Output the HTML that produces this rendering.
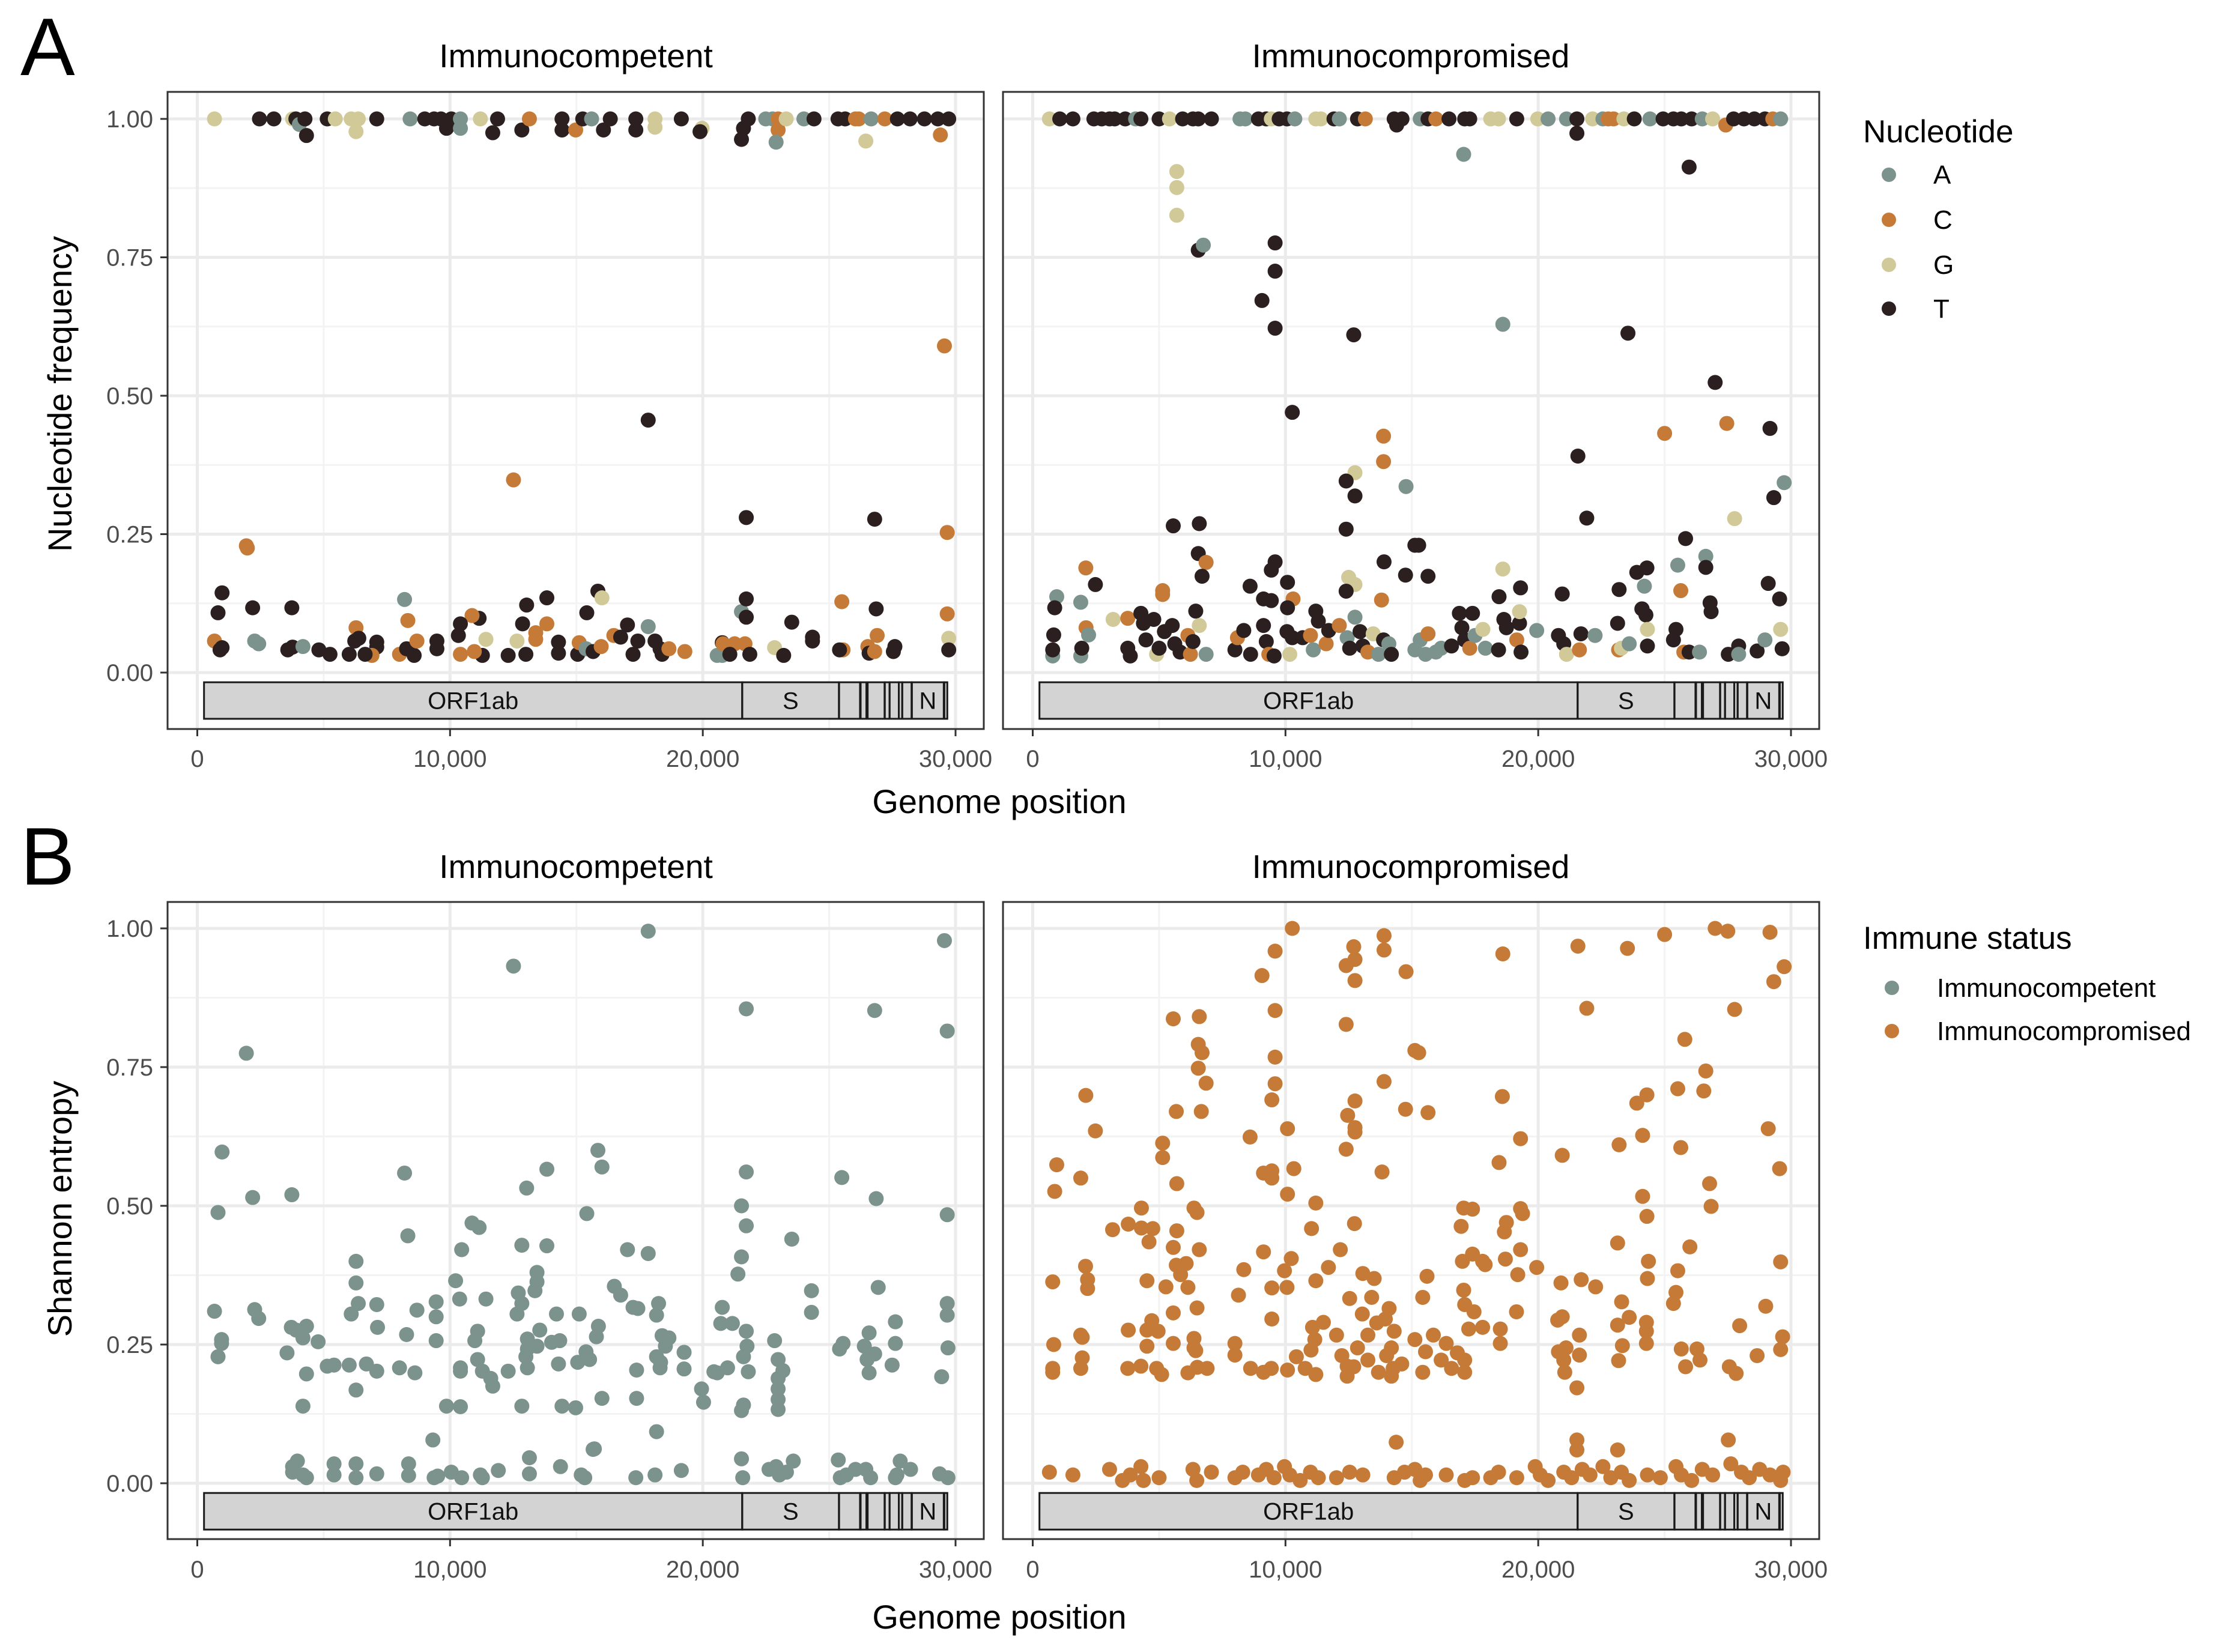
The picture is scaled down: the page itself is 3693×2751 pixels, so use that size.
<!DOCTYPE html>
<html><head><meta charset="utf-8"><style>
html,body{margin:0;padding:0;background:#fff}
svg{display:block;font-family:"Liberation Sans",Arial,sans-serif}
</style></head><body>
<svg id="fig" width="3693" height="2751" viewBox="0 0 3693 2751" xmlns="http://www.w3.org/2000/svg">
<rect x="0" y="0" width="3693" height="2751" fill="#fff"/>
<text x="34" y="125" font-size="136" fill="#000">A</text>
<text x="34" y="1473" font-size="136" fill="#000">B</text>
<text x="959" y="112" font-size="55" text-anchor="middle">Immunocompetent</text>
<text x="2349" y="112" font-size="55" text-anchor="middle">Immunocompromised</text>
<text x="959" y="1462" font-size="55" text-anchor="middle">Immunocompetent</text>
<text x="2349" y="1462" font-size="55" text-anchor="middle">Immunocompromised</text>
<text x="1664" y="1354" font-size="56" text-anchor="middle">Genome position</text>
<text x="1664" y="2712" font-size="56" text-anchor="middle">Genome position</text>
<text transform="translate(119,656) rotate(-90)" font-size="56" text-anchor="middle">Nucleotide frequency</text>
<text transform="translate(119,2013) rotate(-90)" font-size="56" text-anchor="middle">Shannon entropy</text>
<g>
<text x="3102" y="237" font-size="53">Nucleotide</text>
<circle cx="3145" cy="291" r="12" fill="#7b938c"/>
<text x="3219" y="306" font-size="44">A</text>
<circle cx="3145" cy="366" r="12" fill="#c57b37"/>
<text x="3219" y="381" font-size="44">C</text>
<circle cx="3145" cy="441" r="12" fill="#d2c998"/>
<text x="3219" y="456" font-size="44">G</text>
<circle cx="3145" cy="514" r="12" fill="#2b1f1f"/>
<text x="3219" y="529" font-size="44">T</text>
</g>
<g>
<text x="3102" y="1580" font-size="53">Immune status</text>
<circle cx="3150" cy="1645" r="12" fill="#7b938c"/>
<text x="3225" y="1660" font-size="44">Immunocompetent</text>
<circle cx="3150" cy="1717" r="12" fill="#c57b37"/>
<text x="3225" y="1732" font-size="44">Immunocompromised</text>
</g>
</svg>
<script>
// ---- data ----
const xTicks = [0, 10000, 20000, 30000];
const xTickLabels = ["0", "10,000", "20,000", "30,000"];
const yTicks = [0, 0.25, 0.5, 0.75, 1];
const yTickLabels = ["0.00", "0.25", "0.50", "0.75", "1.00"];
const geneNames = ["ORF1ab","S","ORF3a","E","M","ORF6","ORF7a","ORF7b","ORF8","N","ORF10"];
const geneStarts = [266,21563,25393,26245,26523,27202,27394,27756,27894,28274,29558];
const geneEnds = [21555,25384,26220,26472,27191,27387,27759,27887,28259,29533,29674];
const geneLabelShown = ["ORF1ab","S","","","","","","","","N",""];
const nucColors = {A:"#7b938c", C:"#c57b37", G:"#d2c998", T:"#2b1f1f"};

// panel A, immunocompetent: [position kb, frequency, nucleotide]
const freqCompetent = [
[.68,1,"G"],[2.46,1,"T"],[3.03,1,"T"],[3.77,1,"G"],[3.9,1,"T"],[4.04,.99,"A"],[4.26,1,"T"],[4.32,.97,"T"],[5.14,1,"T"],[5.46,1,"G"],[6.09,1,"G"],[6.37,1,"G"],[6.28,.977,"G"],[7.1,1,"T"],[8.42,1,"A"],[9.0,1,"T"],[9.37,1,"T"],[9.64,1,"T"],[9.86,.983,"T"],[10.05,1,"T"],[10.41,1,"A"],[10.41,.983,"A"],[11.2,1,"G"],[11.88,1,"T"],[11.69,.975,"T"],[12.84,.98,"T"],[13.14,1,"C"],[14.43,1,"T"],[14.43,.98,"T"],[14.97,.98,"C"],[15.25,1,"T"],[15.6,1,"A"],[16.07,.98,"T"],[16.34,1,"T"],[17.35,1,"T"],[17.35,.98,"T"],[18.11,1,"G"],[18.11,.985,"G"],[19.15,1,"T"],[19.97,.983,"G"],[19.89,.977,"T"],[21.53,.963,"T"],[21.61,.983,"T"],[21.8,1,"T"],[22.49,1,"A"],[22.76,1,"A"],[22.98,1,"C"],[22.98,.98,"C"],[22.9,.958,"A"],[23.3,1,"G"],[24.0,1,"A"],[24.4,1,"T"],[25.35,1,"T"],[25.63,1,"T"],[26.04,1,"C"],[26.17,1,"C"],[26.66,1,"A"],[26.45,.96,"G"],[27.2,1,"C"],[27.7,1,"T"],[28.2,1,"T"],[28.77,1,"T"],[29.3,1,"T"],[29.73,1,"T"],[29.4,.971,"C"],
[29.56,.59,"C"],[17.84,.456,"T"],[12.51,.348,"C"],[21.72,.28,"T"],[26.8,.277,"T"],[29.67,.253,"C"],[1.94,.229,"C"],[1.98,.225,"C"],
[.98,.144,"T"],[.82,.108,"T"],[2.19,.117,"T"],[3.74,.117,"T"],[8.2,.132,"A"],[8.33,.094,"C"],[13.03,.122,"T"],[13.83,.135,"T"],[15.85,.147,"T"],[16.01,.135,"G"],[15.41,.108,"T"],[21.53,.11,"A"],[21.72,.133,"T"],[21.72,.1,"T"],[25.5,.128,"C"],[26.86,.115,"T"],[29.67,.106,"C"],[23.52,.091,"T"],[17.02,.086,"T"],[17.84,.083,"A"],[11.15,.098,"T"],[10.87,.103,"C"],[10.41,.088,"T"],[12.87,.088,"T"],[13.83,.088,"C"],[6.28,.081,"C"],[24.34,.064,"T"],[24.34,.057,"T"],[26.9,.067,"C"],
[.68,.057,"C"],[.9,.041,"T"],[.98,.045,"T"],[2.27,.057,"A"],[2.43,.052,"A"],[3.58,.041,"T"],[3.77,.046,"T"],[4.18,.047,"A"],[4.81,.041,"T"],[5.25,.033,"T"],[6.01,.033,"T"],[6.23,.057,"T"],[6.39,.062,"T"],[7.1,.055,"T"],[7.1,.046,"T"],[6.91,.031,"C"],[6.64,.033,"T"],[8.0,.033,"C"],[8.28,.043,"T"],[8.58,.031,"T"],[8.69,.057,"C"],[9.48,.057,"T"],[9.48,.043,"T"],[10.41,.033,"C"],[10.33,.067,"T"],[11.28,.031,"T"],[10.96,.038,"C"],[11.42,.06,"G"],[12.3,.031,"T"],[13.0,.033,"T"],[12.65,.057,"G"],[13.39,.072,"C"],[13.39,.06,"C"],[14.29,.055,"T"],[14.29,.035,"T"],[15.05,.033,"T"],[15.11,.054,"C"],[15.38,.043,"A"],[15.66,.038,"T"],[15.98,.047,"C"],[16.48,.067,"C"],[16.75,.064,"T"],[17.24,.033,"T"],[17.43,.057,"T"],[18.11,.057,"T"],[18.39,.033,"T"],[18.31,.043,"T"],[18.66,.043,"C"],[19.29,.038,"C"],[20.57,.031,"A"],[20.77,.031,"A"],[20.77,.054,"T"],[20.8,.052,"C"],[21.67,.052,"C"],[21.86,.033,"T"],[21.26,.052,"C"],[21.07,.033,"T"],[22.84,.045,"G"],[23.2,.031,"T"],[25.55,.041,"C"],[25.41,.041,"T"],[26.53,.047,"C"],[26.58,.035,"T"],[26.8,.038,"C"],[27.6,.047,"T"],[27.54,.038,"T"],[29.73,.062,"G"],[29.73,.041,"T"]
];

// panel A, immunocompromised
const freqCompromised = [
[.66,1,"G"],[1.07,1,"T"],[1.59,1,"T"],[2.42,1,"T"],[2.73,1,"T"],[3.04,1,"T"],[3.24,1,"T"],[3.66,1,"T"],[4.07,1,"A"],[4.28,1,"T"],[5.0,1,"T"],[5.41,1,"G"],[5.93,1,"T"],[6.34,1,"T"],[6.55,1,"T"],[7.07,1,"T"],[8.2,1,"A"],[8.41,1,"A"],[8.93,1,"T"],[9.24,1,"T"],[9.44,1,"G"],[9.75,1,"T"],[10.06,1,"T"],[10.37,1,"A"],[11.2,1,"G"],[11.4,1,"G"],[11.92,1,"T"],[12.13,1,"A"],[12.85,1,"T"],[13.16,1,"C"],[14.3,1,"T"],[14.4,.989,"T"],[14.61,1,"T"],[15.33,1,"A"],[15.64,1,"T"],[15.95,1,"C"],[16.47,1,"T"],[17.09,1,"T"],[17.29,1,"T"],[18.12,1,"G"],[18.43,1,"G"],[19.15,1,"T"],[19.98,1,"G"],[20.39,1,"A"],[21.12,1,"A"],[21.53,.974,"T"],[21.53,1,"T"],[22.15,1,"G"],[22.56,1,"A"],[22.77,1,"C"],[22.98,1,"C"],[23.39,1,"G"],[23.8,1,"T"],[24.42,1,"A"],[24.94,1,"T"],[25.35,1,"T"],[25.66,1,"T"],[26.07,1,"T"],[26.49,1,"A"],[26.9,1,"G"],[27.42,.989,"C"],[27.73,1,"T"],[28.14,1,"T"],[28.55,1,"T"],[28.97,1,"T"],[29.28,1,"C"],[29.59,1,"A"],
[5.7,.905,"G"],[5.7,.876,"G"],[5.7,.826,"G"],[6.55,.763,"T"],[6.75,.772,"A"],[9.59,.776,"T"],[9.59,.725,"T"],[9.07,.672,"T"],[9.59,.622,"T"],[10.27,.47,"T"],[12.7,.61,"T"],[17.05,.936,"A"],[18.6,.629,"A"],[23.55,.613,"T"],[25.97,.913,"T"],[27.0,.524,"T"],[25.0,.432,"C"],[27.46,.45,"C"],[29.17,.441,"T"],[21.57,.391,"T"],[21.92,.279,"T"],[27.77,.278,"G"],[29.73,.343,"A"],[29.32,.316,"T"],[13.88,.427,"C"],[13.88,.381,"C"],[12.75,.361,"G"],[12.4,.346,"T"],[12.75,.319,"T"],[14.77,.336,"A"],[12.4,.259,"T"],[5.56,.265,"T"],[6.59,.269,"T"],[25.83,.242,"T"],[15.12,.23,"T"],[15.27,.23,"T"],[26.63,.21,"A"],[26.63,.19,"T"],[25.52,.194,"A"],[6.55,.215,"T"],[6.86,.199,"C"],[6.7,.174,"T"],[2.1,.189,"C"],[2.48,.159,"T"],[9.59,.2,"T"],[9.44,.185,"T"],[13.9,.2,"T"],[18.6,.187,"G"],[23.9,.181,"T"],[24.3,.189,"T"],[14.75,.176,"T"],[15.64,.174,"T"],[12.5,.172,"G"],[12.75,.159,"G"],[10.08,.163,"T"],[8.6,.156,"T"],[5.14,.148,"C"],[5.14,.141,"C"],[19.3,.153,"T"],[20.95,.142,"T"],[23.2,.15,"T"],[24.2,.156,"A"],[29.1,.161,"T"],[29.55,.133,"T"],[25.64,.148,"C"],[.95,.137,"A"],[.87,.117,"T"],[1.9,.127,"A"],[9.13,.133,"T"],[9.44,.13,"T"],[10.3,.133,"C"],[10.08,.117,"T"],[13.8,.131,"C"],[18.45,.137,"T"],[12.4,.147,"T"],[26.8,.126,"T"],[26.84,.11,"T"],[24.1,.115,"T"],
[.79,.03,"A"],[.79,.041,"T"],[.83,.068,"T"],[1.9,.03,"A"],[1.94,.044,"T"],[2.11,.081,"C"],[2.21,.068,"A"],[3.18,.096,"G"],[3.76,.098,"C"],[3.76,.044,"T"],[3.86,.03,"T"],[4.28,.107,"T"],[4.38,.089,"T"],[4.48,.059,"T"],[4.79,.096,"T"],[4.9,.033,"G"],[5.0,.044,"T"],[5.21,.074,"T"],[5.52,.085,"T"],[5.62,.052,"T"],[5.83,.037,"T"],[6.14,.067,"C"],[6.24,.033,"C"],[6.34,.056,"T"],[6.45,.111,"T"],[6.59,.085,"G"],[6.86,.033,"A"],[8.0,.041,"T"],[8.1,.063,"C"],[8.35,.076,"T"],[8.62,.033,"T"],[9.13,.085,"T"],[9.24,.056,"T"],[9.34,.033,"C"],[9.55,.03,"T"],[10.06,.074,"T"],[10.17,.033,"G"],[10.27,.063,"T"],[10.68,.063,"T"],[10.99,.067,"C"],[11.1,.041,"A"],[11.2,.111,"T"],[11.3,.093,"T"],[11.61,.052,"C"],[11.71,.076,"T"],[12.13,.085,"C"],[12.44,.063,"A"],[12.54,.044,"T"],[12.75,.1,"A"],[12.95,.074,"T"],[13.06,.048,"T"],[13.26,.037,"C"],[13.47,.07,"G"],[13.68,.033,"A"],[13.88,.059,"T"],[14.09,.052,"A"],[14.19,.033,"T"],[15.12,.041,"A"],[15.33,.059,"A"],[15.54,.033,"A"],[15.64,.07,"C"],[15.95,.037,"A"],[16.16,.044,"A"],[16.57,.048,"T"],[16.88,.107,"T"],[16.98,.081,"T"],[17.09,.059,"T"],[17.29,.044,"C"],[17.4,.107,"T"],[17.5,.067,"A"],[17.81,.078,"G"],[17.91,.044,"A"],[18.43,.041,"T"],[18.64,.096,"T"],[18.74,.081,"T"],[19.15,.059,"C"],[19.26,.089,"T"],[19.26,.11,"G"],[19.32,.037,"T"],[19.94,.076,"A"],[20.8,.067,"T"],[21.01,.052,"T"],[21.12,.033,"G"],[21.63,.041,"C"],[21.69,.07,"T"],[22.25,.067,"A"],[23.14,.089,"T"],[23.18,.041,"C"],[23.29,.044,"G"],[23.6,.052,"A"],[24.11,.115,"T"],[24.26,.104,"T"],[24.32,.078,"G"],[24.32,.048,"T"],[25.45,.078,"T"],[25.35,.059,"T"],[25.76,.037,"C"],[25.97,.037,"T"],[26.38,.037,"A"],[27.52,.033,"T"],[27.93,.048,"T"],[27.93,.033,"A"],[28.66,.039,"T"],[28.97,.059,"A"],[29.59,.078,"G"],[29.65,.043,"T"]
];

// panel B, immunocompetent: [position kb, entropy]
const entropyCompetent = [
[17.84,.995],[12.51,.932],[29.56,.978],[21.72,.855],[26.8,.852],[29.67,.815],[1.94,.775],[.98,.597],[.82,.488],[2.19,.515],[3.74,.52],[8.2,.559],[8.33,.446],[13.03,.532],[13.83,.566],[15.85,.6],[16.01,.57],[15.41,.486],[21.72,.561],[21.53,.5],[21.72,.464],[21.53,.408],[21.39,.377],[25.5,.551],[26.86,.513],[29.67,.484],[23.52,.44],[17.02,.421],[17.84,.414],[10.87,.469],[11.15,.461],[10.46,.421],[12.84,.429],[13.83,.428],[13.44,.38],[13.44,.363],[13.36,.347],[12.84,.324],[12.7,.343],[12.65,.305],[10.22,.365],[10.38,.332],[9.45,.327],[9.45,.3],[8.69,.312],[6.28,.4],[6.28,.361],[6.37,.324],[7.1,.322],[7.13,.281],[6.09,.305],[11.42,.332],[.68,.31],[2.27,.313],[2.43,.297],[16.5,.355],[16.75,.339],[17.24,.317],[17.43,.315],[18.25,.324],[18.17,.303],[20.77,.317],[20.71,.288],[21.17,.288],[21.72,.274],[24.3,.347],[24.3,.308],[26.94,.353],[27.62,.291],[29.67,.324],[29.67,.303],[29.7,.244],[29.45,.192],[27.62,.252],[27.49,.213],[26.58,.271],[26.39,.247],[26.5,.223],[26.8,.233],[26.58,.199],[25.55,.252],[25.41,.242],[22.84,.257],[22.98,.223],[23.17,.203],[22.98,.189],[22.98,.17],[22.98,.151],[22.98,.133],[21.75,.247],[21.61,.228],[21.8,.201],[21.61,.141],[21.53,.131],[19.95,.17],[20.03,.146],[20.57,.199],[20.98,.208],[20.44,.201],[19.26,.236],[19.26,.206],[18.39,.266],[18.52,.247],[18.33,.218],[18.31,.208],[18.17,.228],[18.66,.262],[17.38,.204],[17.38,.153],[18.17,.093],[16.01,.153],[15.71,.062],[15.87,.283],[15.79,.264],[15.52,.223],[15.05,.218],[15.38,.237],[15.11,.305],[14.21,.305],[14.34,.257],[14.02,.254],[14.29,.215],[14.43,.139],[14.97,.136],[13.55,.276],[13.44,.247],[13.06,.26],[13.06,.242],[13.0,.228],[13.06,.208],[12.84,.139],[12.3,.202],[11.69,.175],[11.61,.189],[11.28,.202],[11.09,.223],[10.98,.257],[11.09,.274],[10.41,.202],[10.41,.208],[10.41,.138],[9.86,.139],[9.45,.257],[9.32,.078],[8.28,.268],[8.0,.208],[8.61,.199],[7.1,.202],[6.69,.215],[6.28,.168],[6.01,.213],[5.41,.213],[5.14,.211],[4.78,.255],[4.32,.283],[4.18,.262],[3.91,.276],[3.72,.281],[4.32,.197],[3.55,.235],[4.18,.139],[.96,.259],[.96,.252],[.82,.228],
[3.77,.03],[3.96,.04],[3.77,.02],[4.18,.015],[4.32,.01],[5.41,.035],[5.41,.015],[6.28,.035],[6.28,.01],[7.1,.017],[8.36,.035],[8.36,.014],[9.37,.01],[9.51,.013],[10.05,.02],[10.46,.01],[11.2,.015],[11.28,.01],[11.91,.023],[13.14,.046],[13.14,.017],[14.37,.03],[15.19,.015],[15.33,.01],[15.66,.061],[17.35,.01],[18.11,.015],[19.15,.023],[21.53,.044],[21.58,.01],[22.62,.025],[22.9,.03],[23.03,.015],[23.31,.02],[23.58,.04],[25.36,.042],[25.44,.01],[25.68,.015],[26.04,.025],[26.45,.025],[26.64,.01],[27.62,.01],[27.81,.04],[27.68,.015],[28.22,.025],[29.37,.017],[29.7,.01]
];

// panel B, immunocompromised
const entropyCompromised = [
[10.27,1.0],[9.59,.959],[9.07,.915],[13.9,.987],[13.9,.961],[12.7,.967],[12.75,.944],[12.4,.933],[12.75,.906],[14.77,.922],[18.6,.954],[21.57,.968],[23.53,.964],[25.0,.989],[27.0,1.0],[27.5,.995],[29.17,.993],[29.73,.931],[29.32,.904],[21.92,.856],[27.77,.854],[9.59,.852],[12.4,.827],[5.56,.837],[6.59,.841],[25.8,.8],[6.55,.791],[6.7,.776],[6.55,.748],[6.86,.721],[15.12,.78],[15.27,.776],[9.59,.768],[9.59,.72],[9.46,.691],[13.9,.724],[2.1,.699],[2.48,.635],[26.63,.743],[26.55,.707],[25.52,.711],[24.3,.7],[23.9,.685],[18.58,.697],[5.68,.67],[6.67,.67],[12.75,.689],[12.46,.663],[12.75,.641],[12.75,.633],[12.4,.602],[14.75,.674],[15.64,.668],[10.08,.639],[8.6,.624],[19.3,.621],[24.13,.627],[23.2,.61],[25.64,.605],[29.1,.639],[5.14,.613],[5.14,.587],[.95,.574],[1.9,.55],[.87,.526],[20.95,.591],[18.45,.578],[10.33,.567],[13.82,.561],[9.13,.559],[9.46,.563],[9.46,.55],[29.55,.567],[5.7,.54],[26.78,.54],[26.84,.499],[10.08,.521],[11.2,.505],[24.13,.517],[24.3,.481],[4.3,.496],[3.78,.467],[3.16,.457],[4.3,.46],[4.75,.459],[4.6,.435],[6.38,.496],[6.5,.488],[5.7,.455],[5.56,.425],[5.68,.393],[6.07,.396],[6.59,.421],[11.03,.459],[12.73,.468],[17.05,.496],[17.4,.494],[16.95,.463],[18.74,.47],[18.66,.453],[19.3,.495],[19.38,.486],[9.13,.417],[12.17,.421],[10.23,.405],[9.96,.383],[11.7,.389],[11.2,.365],[8.35,.385],[2.09,.391],[2.17,.367],[2.17,.351],[.79,.363],[4.52,.365],[5.27,.354],[5.85,.376],[6.14,.353],[23.14,.433],[26.0,.426],[17.0,.4],[17.4,.413],[17.8,.4],[17.9,.394],[18.7,.404],[19.3,.421],[19.19,.376],[19.94,.389],[24.36,.4],[24.32,.369],[25.52,.383],[25.45,.344],[25.35,.324],[29.59,.399],[20.9,.361],[21.7,.367],[22.27,.354],[13.06,.378],[13.51,.369],[15.6,.373],[15.43,.335],[17.05,.348],[17.09,.322],[17.46,.309],[9.46,.352],[10.06,.353],[8.14,.339],[12.54,.333],[13.41,.335],[23.3,.327],[29.0,.319],[5.56,.307],[6.5,.316],[13.04,.305],[14.1,.315],[13.95,.296],[14.3,.274],[19.14,.309],[9.46,.296],[4.71,.293],[4.52,.276],[4.96,.274],[3.78,.276],[20.95,.3],[20.77,.294],[1.9,.267],[1.96,.263],[11.07,.281],[11.5,.29],[11.16,.259],[11.01,.24],[13.61,.289],[17.8,.281],[17.25,.278],[18.5,.278],[18.5,.252],[23.14,.285],[23.6,.299],[24.28,.29],[24.28,.274],[24.28,.252],[27.97,.284],[29.67,.264],[29.59,.241],[.83,.25],[.79,.207],[.79,.2],[1.96,.226],[1.9,.207],[4.52,.247],[5.56,.252],[6.38,.261],[6.38,.244],[6.45,.239],[8.0,.252],[8.0,.231],[21.63,.267],[21.1,.244],[20.8,.237],[21.01,.222],[21.05,.2],[21.63,.231],[23.33,.248],[23.18,.221],[25.66,.242],[26.28,.242],[26.4,.222],[25.83,.21],[28.66,.23],[27.56,.21],[27.83,.198],[21.53,.172],
[12.02,.267],[12.23,.23],[12.44,.211],[12.85,.244],[13.26,.222],[13.68,.2],[14.19,.244],[14.26,.207],[14.19,.193],[15.12,.259],[15.54,.237],[15.85,.267],[16.16,.222],[16.36,.252],[16.57,.207],[17.09,.2],[17.09,.222],[15.43,.2],[13.26,.267],[12.44,.193],[14.0,.23],[14.6,.215],[16.8,.235],[12.7,.21],
[3.76,.207],[4.28,.211],[4.9,.207],[5.1,.196],[6.14,.199],[6.51,.209],[6.9,.207],[8.62,.207],[9.13,.2],[9.44,.207],[10.08,.204],[10.43,.228],[10.78,.207],[11.2,.196],
[14.38,.074],[21.53,.078],[27.52,.078],[21.53,.06],[23.14,.06],
[.66,.02],[1.59,.015],[3.04,.025],[3.55,.005],[3.86,.015],[4.28,.03],[4.38,.005],[5.0,.01],[6.34,.025],[6.49,.005],[7.07,.02],[8.0,.01],[8.31,.02],[8.93,.015],[9.24,.025],[9.55,.01],[9.96,.03],[10.17,.015],[10.58,.005],[10.99,.02],[11.3,.01],[12.02,.01],[12.54,.02],[13.06,.015],[14.3,.01],[14.71,.02],[15.12,.025],[15.33,.005],[15.54,.015],[16.36,.015],[17.09,.005],[17.4,.01],[18.12,.01],[18.43,.02],[19.15,.01],[19.88,.03],[20.08,.015],[20.39,.005],[21.01,.02],[21.32,.01],[21.74,.025],[22.05,.015],[22.56,.03],[22.87,.01],[23.29,.02],[23.6,.005],[24.32,.015],[24.83,.01],[25.45,.03],[25.66,.015],[26.07,.005],[26.49,.025],[26.9,.015],[27.62,.035],[28.04,.02],[28.35,.01],[28.76,.025],[29.17,.015],[29.59,.005],[29.69,.02]
];

// ---- drawing ----
const NS = "http://www.w3.org/2000/svg";
const svg = document.getElementById("fig");
const panelW = 1359, panelLeftA = 279, panelLeftB = 1670;
const xOffset = 49.5, xSpan = 1262.5;
const rowsY = [{top:153, bottom:1214, y0:1120, ys:922, tickBase:1277}, {top:1502, bottom:2563, y0:2470, ys:924, tickBase:2627}];

function el(tag, attrs, parent) {
  const e = document.createElementNS(NS, tag);
  for (const k in attrs) e.setAttribute(k, attrs[k]);
  (parent || svg).appendChild(e);
  return e;
}

function drawPanel(row, left, key) {
  const R = rowsY[row];
  const xs = p => left + xOffset + p / 30000 * xSpan;
  const ys = v => R.y0 - v * R.ys;
  const g = el("g", {});
  
  
  const bg = el("rect", {x:left, y:R.top, width:panelW, height:R.bottom-R.top, fill:"#fff"}, g);
  
  
  // minor grid
  [0.125,0.375,0.625,0.875].forEach(v => {
    const l = el("line", {x1:left, x2:left+panelW, y1:ys(v), y2:ys(v), stroke:"#f3f3f3", "stroke-width":3}, g);
    
    
  });
  [5000,15000,25000].forEach(p => {
    const l = el("line", {x1:xs(p), x2:xs(p), y1:R.top, y2:R.bottom, stroke:"#f3f3f3", "stroke-width":3}, g);
    
    
  });
  yTicks.forEach(v => {
    const l = el("line", {x1:left, x2:left+panelW, y1:ys(v), y2:ys(v), stroke:"#ebebeb", "stroke-width":5}, g);
    
    
  });
  xTicks.forEach(p => {
    const l = el("line", {x1:xs(p), x2:xs(p), y1:R.top, y2:R.bottom, stroke:"#ebebeb", "stroke-width":5}, g);
    
    
  });
  // gene track
  const gy1 = ys(-0.0175), gy2 = ys(-0.0835);
  for (let i = 0; i < geneNames.length; i++) {
    const r = el("rect", {x:xs(geneStarts[i]), y:gy1, width:xs(geneEnds[i])-xs(geneStarts[i]), height:gy2-gy1, fill:"#d3d3d3", stroke:"#1a1a1a", "stroke-width":3}, g);
    
    
    if (geneLabelShown[i]) {
      const t = el("text", {x:(xs(geneStarts[i])+xs(geneEnds[i]))/2, y:(gy1+gy2)/2+14, "font-size":40, "text-anchor":"middle", fill:"#111"}, g);
      t.textContent = geneLabelShown[i];
      
      
    }
  }
  // points
  const pts = {freqCompetent, freqCompromised, entropyCompetent, entropyCompromised}[key];
  pts.forEach(d => {
    const fill = d.length > 2 ? nucColors[d[2]] : (key === "entropyCompetent" ? "#7b938c" : "#c57b37");
    const c = el("circle", {cx:xs(d[0]*1000), cy:ys(d[1]), r:12.5, fill:fill}, g);
    
    
  });
  // border
  const b = el("rect", {x:left, y:R.top, width:panelW, height:R.bottom-R.top, fill:"none", stroke:"#333", "stroke-width":3}, g);
  
  
  // x ticks
  xTicks.forEach((p, i) => {
    const tk = el("line", {x1:xs(p), x2:xs(p), y1:R.bottom, y2:R.bottom+12, stroke:"#333", "stroke-width":3}, g);
    
    
    const t = el("text", {x:xs(p), y:R.tickBase, "font-size":40, "text-anchor":"middle", fill:"#4d4d4d"}, g);
    t.textContent = xTickLabels[i];
    
    
  });
  // y ticks (left panels only)
  if (left === panelLeftA) {
    yTicks.forEach((v, i) => {
      const tk = el("line", {x1:left-12, x2:left, y1:ys(v), y2:ys(v), stroke:"#333", "stroke-width":3}, g);
      
      
      const t = el("text", {x:left-24, y:ys(v)+14, "font-size":40, "text-anchor":"end", fill:"#4d4d4d"}, g);
      t.textContent = yTickLabels[i];
      
      
    });
  }
}
drawPanel(0, panelLeftA, "freqCompetent");
drawPanel(0, panelLeftB, "freqCompromised");
drawPanel(1, panelLeftA, "entropyCompetent");
drawPanel(1, panelLeftB, "entropyCompromised");
</script>
</body></html>
